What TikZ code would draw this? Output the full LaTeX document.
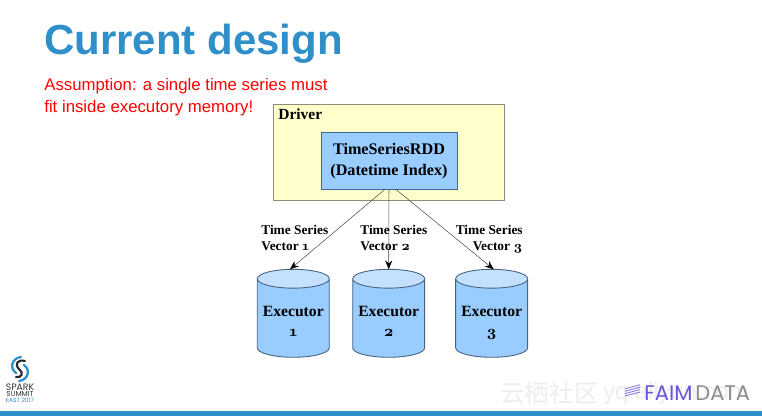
\documentclass[tikz,border=0pt]{standalone}
\usepackage{fontspec}
\usepackage{xcolor}
\usetikzlibrary{arrows.meta, positioning, shapes.geometric}
\newfontfamily\slidefont{Liberation Sans}
\newfontfamily\boxfont{Liberation Serif}
\newfontfamily\numfont[Numbers=OldStyle]{Latin Modern Roman}
\newfontfamily\logofont{Poppins}
\newfontfamily\cjkfont{Noto Sans CJK SC}
\newcommand{\oldnum}[1]{{\numfont\bfseries #1\vphantom{3}}}
\newcommand{\execname}[1]{\rule{0pt}{11pt}Executor\\\oldnum{#1}}
\definecolor{slideblue}{HTML}{2E8FC9}
\definecolor{driverbg}{HTML}{FFFFCC}
\definecolor{driverborder}{HTML}{8C8C78}
\definecolor{execblue}{HTML}{99CCFF}
\definecolor{exectop}{HTML}{C4E0FF}
\definecolor{execborder}{HTML}{46627E}
\definecolor{rddborder}{HTML}{3F6797}
\definecolor{faimpurple}{HTML}{6A55D8}
\definecolor{watermark}{HTML}{EDEDED}

\begin{document}
\begin{tikzpicture}[
  x=0.02cm, y=-0.02cm,
  driverbox/.style={rectangle, draw=driverborder, fill=driverbg, line width=0.5pt,
               minimum width=4.62cm, minimum height=1.92cm, outer sep=0pt},
  rddbox/.style={rectangle, draw=rddborder, fill=execblue, line width=0.5pt,
               minimum width=2.72cm, minimum height=1.13cm, align=center, outer sep=0pt,
               font=\fontsize{9.2}{11.8}\selectfont\boxfont\bfseries},
  execnode/.style={cylinder, shape border rotate=90, shape aspect=0.31, draw=execborder, line width=0.5pt,
               cylinder uses custom fill, cylinder body fill=execblue, cylinder end fill=exectop,
               minimum width=1.44cm, minimum height=1.76cm, outer sep=0pt, inner sep=0pt, align=center,
               font=\fontsize{8.9}{11.4}\selectfont\boxfont\bfseries},
  arrow/.style={-{Stealth[length=5pt, width=4pt, black]}, line width=0.3pt, color=black!70},
  vlabel/.style={font=\fontsize{7.6}{8.6}\selectfont\boxfont\bfseries, inner sep=0pt},
  logotext/.style={inner sep=0pt, text=black!80}
]
  \useasboundingbox (0,0) rectangle (762,416);

  \fill[slideblue] (0,410.5) rectangle (762,416);

  \node[anchor=west, inner sep=0pt, text=slideblue, font=\fontsize{23.9}{26}\selectfont\slidefont\bfseries] (title) at (44,43.5) {Current design};
  \node[anchor=north west, inner sep=0pt, align=left, text=red, font=\fontsize{9.55}{12.6}\selectfont\slidefont] (note) at (44,78)
    {Assumption: a single time series must\\fit inside executory memory!};

  \node[driverbox] (driver) at (389,152) {};
  \node[anchor=west, inner sep=0pt, font=\fontsize{8.8}{10}\selectfont\boxfont\bfseries] (drivertxt) at (278,114) {Driver};
  \node[rddbox] (rdd) at (389,161) {TimeSeriesRDD\\(Datetime Index)};

  \node[execnode, anchor=shape center] (exec1) at (293.3,313.3) {\execname{1}};
  \node[execnode, right=0.468cm of exec1] (exec2) {\execname{2}};
  \node[execnode, right=0.62cm of exec2] (exec3) {\execname{3}};

  \draw[arrow] ([xshift=-0.08cm]rdd.south) -- ([xshift=-0.066cm]exec1.north);
  \draw[arrow] (rdd.south) -- (exec2.north);
  \draw[arrow] ([xshift=0.134cm]rdd.south) -- ([xshift=0.04cm]exec3.north);

  \node[vlabel, anchor=west, align=left] (vec1) at (261,239.2) {Time Series\\Vector \oldnum{1}};
  \node[vlabel, anchor=west, align=left] (vec2) at (360,239.2) {Time Series\\Vector \oldnum{2}};
  \node[vlabel, anchor=east, align=right] (vec3) at (523,239.2) {Time Series\\Vector \oldnum{3}};

  % spark logo
  \draw[slideblue, line width=1.3pt, line cap=round] (21,357) .. controls (12,358) and (9,368) .. (16,373);
  \draw[slideblue, line width=1.3pt, line cap=round] (19,381) .. controls (28,380) and (31,370) .. (24,365);
  \draw[black!85, line width=1.2pt, line cap=round] (25,361) .. controls (18,359) and (14,364) .. (19,369) .. controls (24,373) and (22,378) .. (16,377);
  \node[logotext, font=\fontsize{5.3}{6}\selectfont\logofont] (spark) at (20,387) {SPARK};
  \node[logotext, font=\fontsize{4.1}{5}\selectfont\logofont] (summit) at (20,394) {SUMMIT};
  \node[logotext, text=slideblue, font=\fontsize{3.4}{4}\selectfont\logofont] (east) at (20,400.5) {EAST 2017};

  % watermark and data logo
  \node[anchor=west, inner sep=0pt, text=watermark, font=\fontsize{14}{16}\selectfont\cjkfont] (wmcjk) at (500,393) {云栖社区};
  \node[anchor=west, inner sep=0pt, text=watermark, font=\fontsize{13.5}{16}\selectfont\slidefont] (wmlat) at (603,393) {yq.aliyun.com};
  \foreach \i in {0,1,2,3}
    \draw[faimpurple!80, line width=0.5pt] (625,{396-\i*2.4}) -- (640,{392-\i*2.4});
  \node[anchor=west, inner sep=0pt, text=faimpurple, font=\fontsize{12}{13}\selectfont\logofont] (faim) at (644,393) {FAIM};
  \node[anchor=west, inner sep=0pt, text=black!45, font=\fontsize{12}{13}\selectfont\logofont] (data) at (695,393) {DATA};
\end{tikzpicture}
\end{document}
